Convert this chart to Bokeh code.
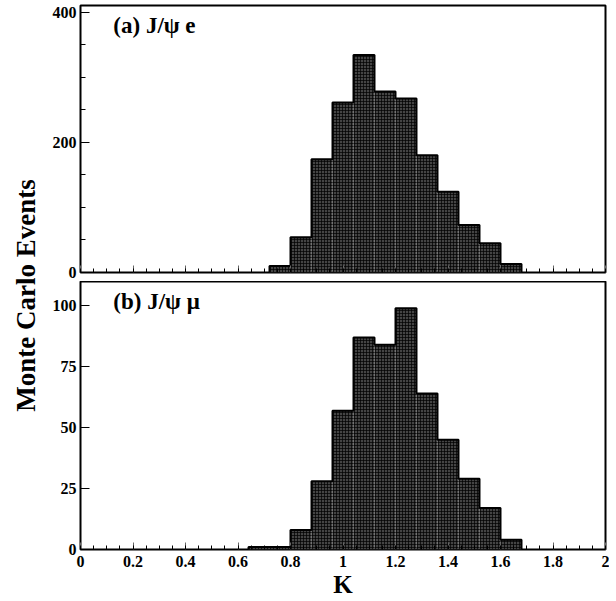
import math
from bokeh.plotting import figure
from bokeh.layouts import row, column
from bokeh.models import FixedTicker, NumeralTickFormatter, Label, Range1d, CustomJSTickFormatter
from bokeh.embed import file_html
from bokeh.resources import INLINE

# ---- data ----
bin_width = 0.08
e_left_edges = [0.72, 0.80, 0.88, 0.96, 1.04, 1.12, 1.20, 1.28, 1.36, 1.44, 1.52, 1.60]
e_counts = [10, 54, 174, 261, 334, 278, 267, 180, 124, 73, 45, 13]
mu_left_edges = [0.64, 0.72, 0.80, 0.88, 0.96, 1.04, 1.12, 1.20, 1.28, 1.36, 1.44, 1.52, 1.60]
mu_counts = [1, 1, 8, 28, 57, 87, 84, 99, 64, 45, 29, 17, 4]

x_major_ticks = [0, 0.2, 0.4, 0.6, 0.8, 1.0, 1.2, 1.4, 1.6, 1.8, 2.0]
x_minor_ticks = [round(0.05 * i, 2) for i in range(41)]
ya_major_ticks = [0, 200, 400]
ya_minor_ticks = [50, 100, 150, 250, 300, 350]
yb_major_ticks = [0, 25, 50, 75, 100]

title_a = "(a) J/\u03c8 e"
title_b = "(b) J/\u03c8 \u03bc"
y_label = "Monte Carlo Events"
x_label = "K"

FONT = "Liberation Serif"
FILL = "#444444"
TICK_FS = "16px"


def step_coords(lefts, counts, w):
    rights = [l + w for l in lefts]
    xs = [lefts[0], lefts[0]] + rights
    ys = [0] + list(counts) + [0]
    return xs, ys


def make_panel(lefts, counts, ymax, yticks, yminor, title, title_y, bottom_labels,
               frame_h, min_top, min_bottom):
    p = figure(frame_width=525, frame_height=frame_h, x_range=Range1d(0, 2), y_range=Range1d(0, ymax),
               output_backend="svg", toolbar_location=None,
               min_border_left=40, min_border_right=4, min_border_top=min_top, min_border_bottom=min_bottom)
    p.grid.visible = False
    p.background_fill_color = "white"
    p.border_fill_color = "white"
    p.outline_line_color = "black"
    p.outline_line_width = 2

    rights = [l + bin_width for l in lefts]
    p.quad(left=lefts, right=rights, bottom=0, top=counts, fill_color=FILL, line_color=None,
           hatch_pattern="+", hatch_color="black", hatch_scale=3, hatch_weight=1, hatch_alpha=0.7)
    xs, ys = step_coords(lefts, counts, bin_width)
    p.step(xs, ys, mode="after", line_color="black", line_width=2)

    xa = p.xaxis[0]
    xa.ticker = FixedTicker(ticks=x_major_ticks, minor_ticks=x_minor_ticks)
    xa.axis_line_color = None
    xa.major_tick_in = 7
    xa.major_tick_out = 0
    xa.minor_tick_in = 4
    xa.minor_tick_out = 0
    xa.major_tick_line_color = "#666666"
    xa.minor_tick_line_color = "black"
    if bottom_labels:
        xa.formatter = NumeralTickFormatter(format="0.[0]")
        xa.major_label_text_font = FONT
        xa.major_label_text_font_style = "bold"
        xa.major_label_text_font_size = TICK_FS
        xa.major_label_text_color = "black"
        xa.major_label_standoff = 6
        xa.axis_label = x_label
        xa.axis_label_text_font = FONT
        xa.axis_label_text_font_style = "bold"
        xa.axis_label_text_font_size = "25px"
        xa.axis_label_text_color = "black"
        xa.axis_label_standoff = 1
    else:
        xa.formatter = CustomJSTickFormatter(code="return ''")
        xa.major_label_text_font_size = "1px"
        xa.major_label_standoff = 0

    ya = p.yaxis[0]
    ya.ticker = FixedTicker(ticks=yticks, minor_ticks=yminor)
    ya.axis_line_color = None
    ya.major_tick_in = 9
    ya.major_tick_out = 0
    ya.minor_tick_in = 5
    ya.minor_tick_out = 0
    ya.major_label_text_font = FONT
    ya.major_label_text_font_style = "bold"
    ya.major_label_text_font_size = TICK_FS
    ya.major_label_text_color = "black"
    ya.major_label_standoff = 4

    p.add_layout(Label(x=0.125, y=title_y, text=title, text_font=FONT, text_font_style="bold",
                       text_font_size="23px", text_color="black", text_baseline="middle"))
    return p


pa = make_panel(e_left_edges, e_counts, 410, ya_major_ticks, ya_minor_ticks, title_a, 379, False, 267, 5, 9)
pb = make_panel(mu_left_edges, mu_counts, 110, yb_major_ticks, [], title_b, 101.8, True, 268, 0, 46)

total_h = (5 + 267 + 9) + (268 + 46)
pl = figure(width=40, height=total_h, x_range=Range1d(0, 40), y_range=Range1d(0, total_h),
            output_backend="svg", toolbar_location=None, min_border=0,
            x_axis_location=None, y_axis_location=None)
pl.grid.visible = False
pl.outline_line_color = None
pl.add_layout(Label(x=25, y=total_h - 295, text=y_label, angle=math.pi / 2, text_font=FONT,
                    text_font_style="bold", text_font_size="27px", text_color="black",
                    text_align="center", text_baseline="middle"))

layout = row(pl, column(pa, pb))
open("out.html", "w").write(file_html(layout, INLINE))
